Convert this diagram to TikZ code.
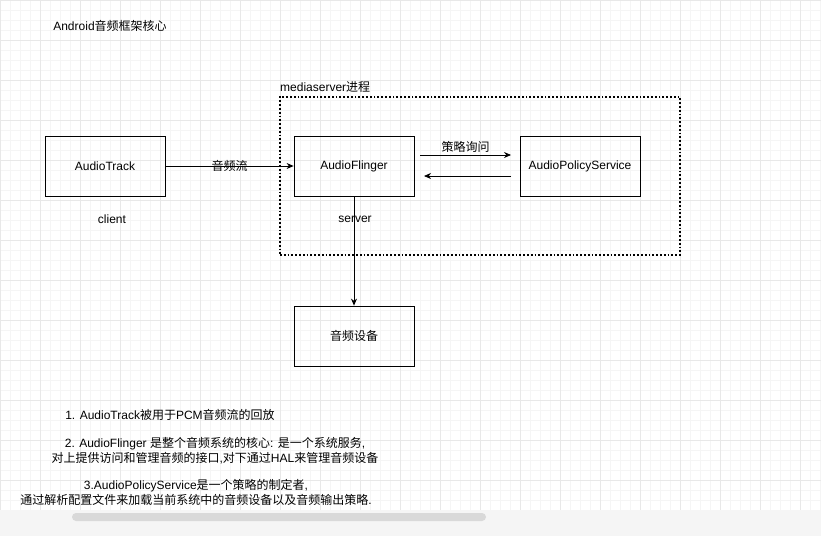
\documentclass[tikz,border=0pt]{standalone}
\usepackage{fontspec}
\setmainfont{Liberation Sans}
\newfontfamily\cjk{Noto Sans CJK SC}
\newcommand{\zh}[1]{{\cjk #1}}
\usetikzlibrary{positioning,arrows.meta}
\begin{document}
\begin{tikzpicture}[
   x=1pt, y=-1pt,
   font=\fontsize{12}{15}\selectfont,
   box/.style={draw, thick, minimum width=120pt, minimum height=60pt, inner sep=0pt},
   arrow/.style={-{Stealth[length=7pt,width=6pt]}, thick},
   note/.style={align=center, inner sep=0pt}
]
% Background grid and scrollbar
\useasboundingbox (0,0) rectangle (821,536);
\draw[black!4, line width=0.6pt] (0,0) grid[step=10pt] (821,510);
\draw[black!9, line width=0.7pt] (0,0) grid[step=40pt] (821,510);
\fill[black!4] (0,510) rectangle (821,536);
\fill[black!15, rounded corners=4pt] (72,513) rectangle (486,521);

% Nodes
\node[note] (title) at (110,26) {Android\zh{音频框架核心}};
\node[draw, dotted, line width=1.8pt, minimum width=400pt, minimum height=158pt] (proc) at (480,176) {};
\node[note, anchor=south west] (proclbl) at (280,93) {mediaserver\zh{进程}};
\node[box] (track) at (105,166) {AudioTrack};
\node[box] (flinger) at (354,166) {AudioFlinger};
\node[box] (policy) at (580,166) {AudioPolicyService};
\node[box] (device) at (354,336) {\zh{音频设备}};
\node[note] (client) at (112,219) {client};
\node[note] (server) at (355,219) {server};
\coordinate (q1) at (420,155);
\coordinate (q2) at (511,155);
\coordinate (r1) at (511,176);
\coordinate (r2) at (424,176);

% Edges
\draw[arrow] (track) -- node[inner sep=1pt] {\zh{音频流}} (flinger);
\draw[arrow] (q1) -- node[above, inner sep=2pt] {\zh{策略询问}} (q2);
\draw[arrow] (r1) -- (r2);
\draw[arrow] (flinger) -- (device);

% Notes
\node[note] (n1) at (170,415) {1. AudioTrack\zh{被用于}PCM\zh{音频流的回放}};
\node[note] (n2) at (215,451) {2. AudioFlinger \zh{是整个音频系统的核心}: \zh{是一个系统服务},\\
  \zh{对上提供访问和管理音频的接口},\zh{对下通过}HAL\zh{来管理音频设备}};
\node[note] (n3) at (196,492) {3.AudioPolicyService\zh{是一个策略的制定者},\\
  \zh{通过解析配置文件来加载当前系统中的音频设备以及音频输出策略}.};
\end{tikzpicture}
\end{document}
